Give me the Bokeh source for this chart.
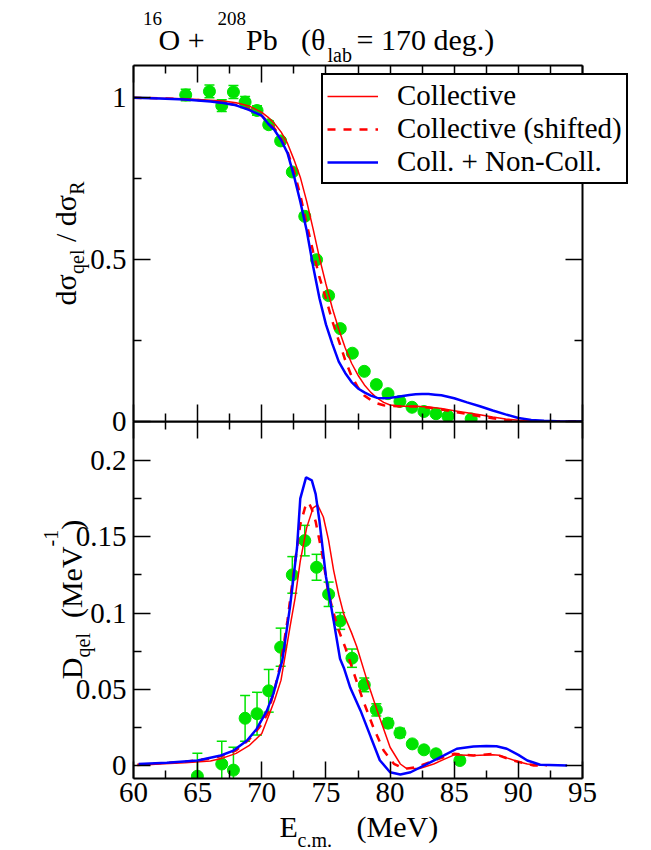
import math
from bokeh.plotting import figure
from bokeh.models import (Range1d, FixedTicker, LinearAxis, Label, Legend, LegendItem,
                          ColumnDataSource, Whisker, TeeHead)
from bokeh.layouts import column
from bokeh.embed import file_html
from bokeh.resources import INLINE

# ---------------- axes / ticks ----------------
x_ticks = [60, 65, 70, 75, 80, 85, 90, 95]
x_minor = [62.5, 67.5, 72.5, 77.5, 82.5, 87.5, 92.5]
x_tick_labels = ["60", "65", "70", "75", "80", "85", "90", "95"]

top_y_ticks = [0, 0.5, 1]
top_y_minor = [0.25, 0.75]
top_y_labels = ["0", "0.5", "1"]

bot_y_ticks = [0, 0.05, 0.1, 0.15, 0.2]
bot_y_minor = [0.025, 0.075, 0.125, 0.175]
bot_y_labels = ["0", "0.05", "0.1", "0.15", "0.2"]

legend_labels = ["Collective", "Collective (shifted)", "Coll. + Non-Coll."]

# ---------------- experimental data ----------------
e_top_exp = [64.07, 65.92, 66.88, 67.79, 68.70, 69.63, 70.54, 71.47, 72.38, 73.35, 74.27,
             75.21, 76.12, 77.06, 77.99, 78.93, 79.84, 80.77, 81.71, 82.64, 83.58, 84.51, 86.32]
r_top_exp = [1.009, 1.020, 0.976, 1.018, 0.987, 0.961, 0.917, 0.867, 0.771, 0.634, 0.500,
             0.389, 0.287, 0.211, 0.155, 0.114, 0.086, 0.062, 0.044, 0.031, 0.024, 0.016, 0.008]
r_top_err = [0.018, 0.02, 0.018, 0.02, 0.017, 0.015, 0.012, 0.01, 0.01, 0.01, 0.009,
             0.008, 0.007, 0.006, 0.005, 0.004, 0.004, 0.003, 0.003, 0.003, 0.003, 0.003, 0.003]

e_bot_exp = [64.98, 66.88, 67.79, 68.70, 69.63, 70.54, 71.47, 72.38, 73.35, 74.27, 75.21,
             76.11, 77.03, 77.99, 78.93, 79.84, 80.77, 81.73, 82.64, 83.58, 85.44]
d_bot_exp = [-0.007, 0.001, -0.003, 0.031, 0.034, 0.049, 0.0776, 0.125, 0.1475, 0.130, 0.1123,
             0.0948, 0.0704, 0.0529, 0.0365, 0.0278, 0.0214, 0.0142, 0.0103, 0.0077, 0.0033]
d_bot_err = [0.015, 0.015, 0.015, 0.015, 0.014, 0.014, 0.0125, 0.012, 0.010, 0.0085, 0.008,
             0.0055, 0.006, 0.0045, 0.004, 0.003, 0.003, 0.002, 0.002, 0.002, 0.002]

# ---------------- theory: top panel ----------------
e_top_coll = [60, 62, 64, 66, 67, 68, 69, 70, 70.5, 71, 71.5, 72, 72.5, 73, 73.5, 74, 74.5, 75,
              75.5, 76, 76.5, 77, 77.5, 78, 78.5, 79, 79.5, 80, 81, 82, 83, 84, 85, 86, 87, 88,
              89, 90, 91, 92, 95]
r_top_coll = [1.0, 0.999, 0.997, 0.993, 0.99, 0.985, 0.975, 0.955, 0.94, 0.92, 0.895, 0.86, 0.81,
              0.755, 0.68, 0.595, 0.505, 0.425, 0.35, 0.285, 0.228, 0.18, 0.143, 0.113, 0.09,
              0.072, 0.059, 0.051, 0.047, 0.047, 0.045, 0.04, 0.033, 0.027, 0.021, 0.014, 0.008,
              0.004, 0.002, 0.001, 0.0]

e_top_shift = [60, 62, 64, 66, 67, 68, 69, 70, 70.5, 71, 71.5, 72, 72.5, 73, 73.5, 74, 74.5, 75,
               75.5, 76, 76.5, 77, 77.5, 78, 78.5, 79, 79.5, 80, 81, 82, 83, 84, 85, 86, 87, 88,
               89, 90, 91, 95]
r_top_shift = [1.0, 0.999, 0.996, 0.99, 0.985, 0.978, 0.965, 0.945, 0.925, 0.905, 0.875, 0.835,
               0.775, 0.7, 0.61, 0.525, 0.445, 0.38, 0.31, 0.25, 0.19, 0.14, 0.105, 0.08, 0.066,
               0.056, 0.05, 0.048, 0.046, 0.046, 0.043, 0.037, 0.03, 0.023, 0.016, 0.01, 0.005,
               0.002, 0.001, 0.0]

e_top_nc = [60, 62, 64, 66, 67, 68, 69, 70, 70.5, 71, 71.5, 72, 72.5, 73, 73.5, 74, 74.5, 75,
            75.5, 76, 76.5, 77, 77.5, 78, 78.5, 79, 79.5, 80, 80.5, 81, 81.5, 82, 82.5, 83, 83.5,
            84, 85, 86, 87, 88, 89, 90, 91, 92, 93, 95]
r_top_nc = [1.0, 0.998, 0.995, 0.989, 0.984, 0.977, 0.963, 0.945, 0.92, 0.9, 0.87, 0.83, 0.76,
            0.68, 0.59, 0.48, 0.38, 0.3, 0.24, 0.185, 0.15, 0.122, 0.102, 0.09, 0.08, 0.073,
            0.072, 0.073, 0.076, 0.079, 0.082, 0.084, 0.085, 0.085, 0.083, 0.081, 0.072, 0.059,
            0.047, 0.034, 0.022, 0.011, 0.005, 0.002, 0.001, 0.0]

# ---------------- theory: bottom panel ----------------
e_bot_coll = [60.3, 62.0, 64.0, 66.0, 67.0, 68.0, 69.0, 70.0, 70.6, 71.0, 71.5, 72.2, 72.6, 73.0,
              73.5, 74.0, 74.35, 74.8, 75.2, 75.6, 76.0, 76.4, 77.0, 77.4, 78.2, 79.0, 80.0,
              80.8, 81.3, 82.3, 83.4, 84.2, 85.0, 86.5, 88.0, 88.5, 89.1, 90.0, 90.7, 92.2]
d_bot_coll = [0.0, 0.001, 0.0018, 0.003, 0.005, 0.008, 0.013, 0.021, 0.034, 0.043, 0.056, 0.091,
              0.11, 0.134, 0.156, 0.169, 0.171, 0.163, 0.148, 0.128, 0.112, 0.099, 0.087, 0.078,
              0.056, 0.036, 0.012, 0.001, -0.002, -0.002, 0.001, 0.004, 0.007, 0.0066, 0.007,
              0.0068, 0.005, 0.0025, 0.001, 0.0]

e_bot_shift = [60.3, 62.0, 64.0, 66.0, 67.0, 68.0, 69.0, 70.0, 70.5, 71.0, 71.5, 72.0, 72.5, 73.0,
               73.4, 73.65, 73.9, 74.2, 74.7, 75.2, 75.9, 76.5, 77.2, 77.9, 78.7, 79.5, 80.3,
               81.1, 82.1, 83.4, 85.0, 86.5, 88.1, 89.6, 91.2, 92.2]
d_bot_shift = [0.0005, 0.0015, 0.0025, 0.0045, 0.0065, 0.01, 0.017, 0.027, 0.035, 0.05, 0.068,
               0.095, 0.128, 0.158, 0.170, 0.1726, 0.168, 0.16, 0.139, 0.1126, 0.0907, 0.0776,
               0.06, 0.0426, 0.025, 0.0098, 0.0011, -0.0022, -0.001, 0.0033, 0.0077, 0.0066,
               0.0077, 0.0033, 0.0, 0.0]

e_bot_nc = [60.4, 62.6, 65.0, 66.8, 67.8, 68.85, 69.6, 70.4, 70.9, 71.6, 72.2, 72.75, 73.0, 73.45,
            73.9, 74.2, 74.5, 75.0, 75.6, 76.1, 76.4, 76.9, 77.7, 78.5, 79.2, 80.0, 80.8, 81.6,
            82.9, 84.2, 85.2, 86.5, 87.5, 88.3, 89.1, 90.0, 90.7, 91.7, 93.8]
d_bot_nc = [0.001, 0.0018, 0.0033, 0.0066, 0.0098, 0.0164, 0.024, 0.036, 0.047, 0.069, 0.104,
            0.143, 0.175, 0.189, 0.187, 0.178, 0.16, 0.124, 0.095, 0.07, 0.064, 0.051, 0.036,
            0.0186, 0.0035, -0.0044, -0.0059, -0.0044, 0.0011, 0.0066, 0.011, 0.0125, 0.0128,
            0.0127, 0.011, 0.007, 0.0033, 0.0005, 0.0]

# ---------------- styling ----------------
FONT = "Liberation Serif"
GREEN = "#00e400"
RED = "#ff0000"
BLUE = "#0000ff"
PAGE_W, PAGE_H = 640, 850
MID = 0.33   # distance baseline -> text middle, in em
GAP = 20     # overlap of the two panel canvases

COLL = dict(line_color=RED, line_width=1.5)
SHIFT = dict(line_color=RED, line_width=2.5, line_dash="8 8")
NONC = dict(line_color=BLUE, line_width=2.5)


def make_panel(y0, y1, fh, mt, mb, **kw):
    p = figure(x_range=Range1d(60, 95), y_range=Range1d(y0, y1),
               frame_width=449, frame_height=fh,
               min_border_left=133, min_border_right=40,
               min_border_top=mt, min_border_bottom=mb,
               output_backend="svg", toolbar_location=None, tools="", **kw)
    p.xgrid.visible = False
    p.ygrid.visible = False
    p.outline_line_color = None
    p.border_fill_alpha = 0
    p.background_fill_alpha = 0
    p.add_layout(LinearAxis(), "above")
    p.add_layout(LinearAxis(), "right")
    return p


def make_layer(**kw):
    p = figure(width=PAGE_W, height=PAGE_H, x_range=Range1d(0, PAGE_W),
               y_range=Range1d(PAGE_H, 0), x_axis_location=None, y_axis_location=None,
               min_border=0, title=None, frame_align=False,
               output_backend="svg", toolbar_location=None, tools="", **kw)
    p.xgrid.visible = False
    p.ygrid.visible = False
    p.outline_line_color = None
    p.border_fill_alpha = 0
    p.background_fill_alpha = 0
    return p


def style_axis(ax, ticks, minor, labels=None, standoff=6):
    ax.ticker = FixedTicker(ticks=ticks, minor_ticks=minor)
    ax.axis_line_color = "black"
    ax.axis_line_width = 2
    ax.major_tick_in = 17
    ax.major_tick_out = 0
    ax.minor_tick_in = 8
    ax.minor_tick_out = 0
    ax.major_tick_line_color = "black"
    ax.minor_tick_line_color = "black"
    ax.major_tick_line_width = 1.5
    ax.minor_tick_line_width = 1.5
    ax.axis_label = None
    if labels is None:
        ax.major_label_overrides = {t: "" for t in ticks}
        ax.major_label_text_font_size = "0px"
        ax.major_label_standoff = 0
    else:
        ax.major_label_overrides = dict(zip(ticks, labels))
        ax.major_label_text_font = FONT
        ax.major_label_text_font_size = "29px"
        ax.major_label_text_color = "black"
        ax.major_label_standoff = standoff


def add_points(p, xs, ys, errs):
    src = ColumnDataSource(dict(x=xs, y=ys,
                                lo=[a - b for a, b in zip(ys, errs)],
                                hi=[a + b for a, b in zip(ys, errs)]))
    w = Whisker(source=src, base="x", lower="lo", upper="hi", line_color=GREEN, line_width=1.5,
                upper_head=TeeHead(size=10, line_color=GREEN, line_width=1.5),
                lower_head=TeeHead(size=10, line_color=GREEN, line_width=1.5))
    p.add_layout(w)
    p.scatter("x", "y", source=src, marker="circle", size=12, fill_color=GREEN,
              line_color=GREEN)


# ---------------- text layer (page pixel coordinates) ----------------
bg = make_layer()
bg.background_fill_alpha = 1
bg.border_fill_alpha = 1


def txt(text, x, base, size):
    """horizontal text; x = start, base = baseline (page px)"""
    bg.add_layout(Label(x=x, y=base - MID * size, text=text, text_font=FONT,
                        text_font_size=f"{size}px", text_color="black",
                        text_align="left", text_baseline="middle"))


def vtxt(text, base, y, size):
    """text rotated 90 deg (reads upward); base = baseline x, y = start (page px)"""
    bg.add_layout(Label(x=base - MID * size, y=y, text=text, text_font=FONT,
                        text_font_size=f"{size}px", text_color="black",
                        text_align="left", text_baseline="middle", angle=math.pi / 2))


# title
txt("16", 142.5, 24, 19)
txt("O +", 158, 49, 30)
txt("208", 217, 24, 19)
txt("Pb", 245.5, 49, 30)
txt("(θ", 300.5, 49, 30)
txt("lab", 327, 61, 20)
txt("= 170 deg.)", 356, 49, 30)

# y label, top panel
vtxt("dσ", 75, 305, 30)
vtxt("qel", 83, 273.5, 20)
vtxt("/ dσ", 75, 241.6, 30)
vtxt("R", 83, 194.3, 20)
# y label, bottom panel
vtxt("D", 81, 678.7, 30)
vtxt("qel", 89, 657.0, 20)
vtxt("(MeV", 81, 617.6, 30)
vtxt("-1", 57, 546.0, 20)
vtxt(")", 81, 529.3, 30)
# x label
txt("E", 279, 836, 30)
txt("c.m.", 297, 846, 20)
txt("(MeV)", 356, 836, 30)

# ---------------- top panel ----------------
top = make_panel(0, 1.1, 356, 65, GAP, margin=(-PAGE_H, 0, 0, 0))
style_axis(top.below[0], x_ticks, x_minor)
style_axis(top.above[0], x_ticks, x_minor)
style_axis(top.left[0], top_y_ticks, top_y_minor, top_y_labels, standoff=7)
style_axis(top.right[0], top_y_ticks, top_y_minor)

add_points(top, e_top_exp, r_top_exp, r_top_err)
top.line(e_top_coll, r_top_coll, **COLL)
top.line(e_top_shift, r_top_shift, **SHIFT)
top.line(e_top_nc, r_top_nc, **NONC)

# ---------------- bottom panel ----------------
bot = make_panel(-0.0085, 0.2256, 357, 0, 72, margin=(-GAP, 0, 0, 0))
style_axis(bot.below[0], x_ticks, x_minor, x_tick_labels, standoff=4)
style_axis(bot.above[0], x_ticks, x_minor)
style_axis(bot.left[0], bot_y_ticks, bot_y_minor, bot_y_labels, standoff=7)
style_axis(bot.right[0], bot_y_ticks, bot_y_minor)

add_points(bot, e_bot_exp, d_bot_exp, d_bot_err)
bot.line(e_bot_coll, d_bot_coll, **COLL)
bot.line(e_bot_shift, d_bot_shift, **SHIFT)
bot.line(e_bot_nc, d_bot_nc, **NONC)

# ---------------- legend layer (drawn over the panel frame, as in the original) ----------------
fg = make_layer(margin=(-PAGE_H, 0, 0, 0))
k1 = fg.line(e_top_coll, r_top_coll, visible=False, **COLL)
k2 = fg.line(e_top_shift, r_top_shift, visible=False, **SHIFT)
k3 = fg.line(e_top_nc, r_top_nc, visible=False, **NONC)
legend = Legend(items=[LegendItem(label=legend_labels[0], renderers=[k1]),
                       LegendItem(label=legend_labels[1], renderers=[k2]),
                       LegendItem(label=legend_labels[2], renderers=[k3])],
                location=(321, PAGE_H - 184), orientation="vertical",
                border_line_color="black", border_line_width=2, border_line_alpha=1.0,
                background_fill_color="white", background_fill_alpha=1.0,
                inactive_fill_alpha=0.0,
                padding=4, spacing=0, margin=0,
                glyph_width=51, glyph_height=32, label_standoff=19,
                label_text_font=FONT, label_text_font_size="29px", label_text_color="black")
fg.add_layout(legend)

layout = column(bg, top, bot, fg)
open("out.html", "w").write(file_html(layout, INLINE))
